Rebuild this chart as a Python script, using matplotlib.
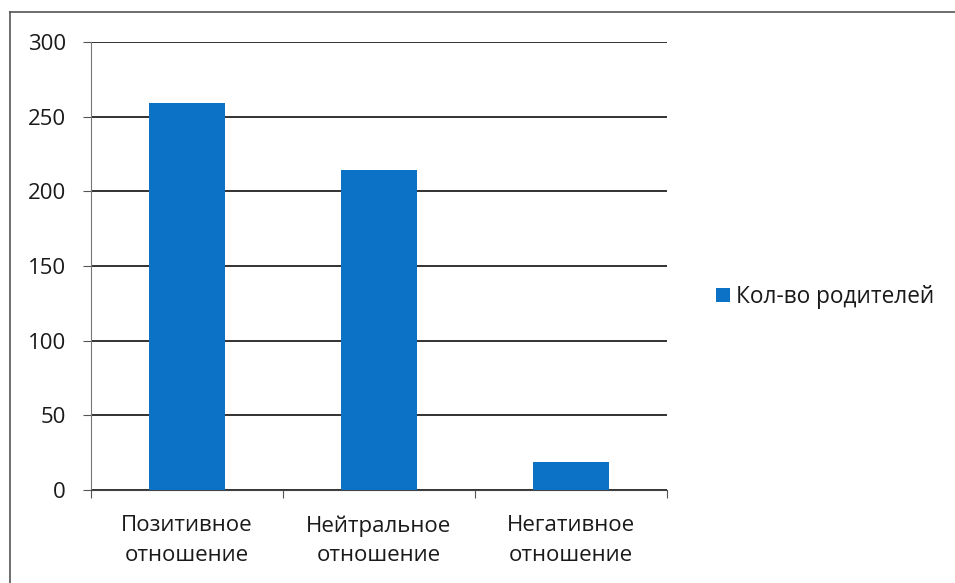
import matplotlib
matplotlib.use('Agg')
import matplotlib.pyplot as plt
from matplotlib.lines import Line2D
import numpy as np

# Данные
categories = ['Позитивное\nотношение', 'Нейтральное\nотношение', 'Негативное\nотношение']
values = [259, 214, 19]
series_name = 'Кол-во родителей'
y_ticks = [0, 50, 100, 150, 200, 250, 300]

plt.rcParams['font.family'] = ['Open Sans', 'DejaVu Sans']

fig = plt.figure(figsize=(9.55, 5.83), dpi=100)
ax = fig.add_axes([0.0953, 0.1595, 0.6031, 0.7685])

x = np.arange(len(categories))
ax.bar(x, values, width=0.4, color='#0b72c6', label=series_name, zorder=3)

ax.set_xlim(-0.5, len(categories) - 0.5)
ax.set_ylim(0, 300)
ax.set_yticks(y_ticks)
ax.yaxis.grid(True, color='#222222', linewidth=1.3, zorder=0)

# Разделители категорий на оси X
ax.set_xticks(np.arange(len(categories) + 1) - 0.5)
ax.set_xticklabels([])
ax.set_xticks(x, minor=True)
ax.set_xticklabels(categories, minor=True, fontsize=16, color='#1a1a1a', linespacing=1.55)
ax.tick_params(axis='x', which='minor', length=0, pad=18)
ax.tick_params(axis='x', which='major', length=6, direction='out', color='#555555')
ax.tick_params(axis='y', length=6, direction='out', color='#555555', labelsize=16,
               labelcolor='#1a1a1a', pad=12)

for side in ['top', 'right']:
    ax.spines[side].set_visible(False)
ax.spines['left'].set_color('#777777')
ax.spines['bottom'].set_color('#444444')

fig.legend(loc='center left', bbox_to_anchor=(0.7497, 0.4906), frameon=False,
           fontsize=16.3, borderpad=0, borderaxespad=0,
           handlelength=0.6, handleheight=0.6, handletextpad=0.3,
           labelcolor='#1a1a1a')

# Рамка диаграммы
fig.add_artist(Line2D([10 / 955, 10 / 955], [0, 1 - 12 / 583], color='#555555', linewidth=1.2))
fig.add_artist(Line2D([10 / 955, 1], [1 - 12 / 583, 1 - 12 / 583], color='#555555', linewidth=1.2))

fig.savefig('out.png', dpi=100)
